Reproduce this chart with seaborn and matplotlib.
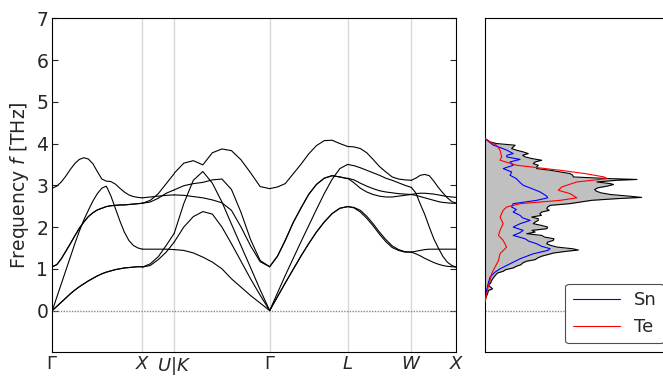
import numpy as np
import pandas as pd
import matplotlib
matplotlib.use("Agg")
import matplotlib.pyplot as plt
import seaborn as sns

# ---------------- data ----------------
tick_labels = [r"$\Gamma$", r"$X$", r"$U|K$", r"$\Gamma$", r"$L$", r"$W$", r"$X$"]
tick_pos = [0.0, 1.0, 1.354, 2.414, 3.280, 3.987, 4.487]

# Gamma - X
t_gx = [0, .05, .1, .15, .2, .25, .3, .35, .4, .45, .5, .55, .6, .65, .7, .75, .8, .85, .9, .95, 1]
gx_ta = [0, .1, .2, .3, .4, .49, .57, .64, .71, .77, .83, .88, .92, .95, .98, 1.0, 1.02, 1.03, 1.04, 1.05, 1.05]
gx_to = [1.05, 1.1, 1.24, 1.42, 1.6, 1.79, 1.97, 2.12, 2.25, 2.34, 2.41, 2.45, 2.49, 2.51, 2.52, 2.53, 2.53, 2.54, 2.55, 2.56, 2.57]
gx_la = [0, .32, .64, .96, 1.28, 1.6, 1.9, 2.17, 2.4, 2.62, 2.8, 2.93, 2.98, 2.75, 2.45, 2.15, 1.88, 1.68, 1.56, 1.5, 1.47]
gx_lo = [2.93, 2.98, 3.08, 3.22, 3.38, 3.52, 3.62, 3.66, 3.63, 3.52, 3.33, 3.15, 3.1, 3.09, 3.03, 2.93, 2.84, 2.77, 2.73, 2.71, 2.70]

# X - U
t_xu = [0, .25, .5, .75, 1]
xu_1 = [1.04, 1.08, 1.22, 1.40, 1.64]
xu_2 = [1.04, 1.12, 1.29, 1.56, 1.85]
xu_3 = [1.47, 1.47, 1.47, 1.47, 1.46]
xu_4 = [2.57, 2.60, 2.69, 2.81, 2.89]
xu_5 = [2.70, 2.72, 2.74, 2.76, 2.77]
xu_6 = [2.57, 2.64, 2.80, 3.04, 3.28]

# K - Gamma
t_kg = [0, .1, .2, .3, .4, .5, .6, .7, .8, .9, 1]
kg_1 = [1.46, 1.44, 1.38, 1.28, 1.16, 1.0, 0.76, 0.56, 0.36, 0.18, 0]
kg_2 = [1.64, 2.0, 2.25, 2.37, 2.31, 2.0, 1.6, 1.18, 0.76, 0.37, 0]
kg_3 = [1.85, 2.56, 3.12, 3.33, 3.05, 2.6, 2.07, 1.55, 1.03, 0.5, 0]
kg_4 = [2.77, 2.76, 2.73, 2.70, 2.65, 2.58, 2.4, 2.0, 1.55, 1.17, 1.05]
kg_5 = [2.89, 2.99, 3.04, 3.07, 3.13, 3.15, 2.9, 2.35, 1.7, 1.2, 1.05]
kg_6 = [3.29, 3.53, 3.59, 3.49, 3.78, 3.87, 3.83, 3.61, 3.30, 2.97, 2.92]

# Gamma - L
t_gl = [0, .1, .2, .3, .4, .5, .6, .7, .8, .9, 1]
gl_ta = [0, .33, .66, .98, 1.3, 1.6, 1.88, 2.12, 2.32, 2.45, 2.49]
gl_la = [0, .42, .84, 1.24, 1.64, 2.03, 2.42, 2.8, 3.14, 3.4, 3.5]
gl_to = [1.05, 1.3, 1.68, 2.1, 2.45, 2.78, 3.02, 3.17, 3.23, 3.2, 3.16]
gl_lo = [2.92, 2.96, 3.04, 3.27, 3.5, 3.75, 3.95, 4.07, 4.08, 4.0, 3.93]

# L - W
t_lw = [0, .1, .2, .3, .4, .5, .6, .7, .8, .9, 1]
lw_1 = [3.93, 3.92, 3.88, 3.78, 3.62, 3.45, 3.32, 3.2, 3.15, 3.13, 3.12]
lw_2 = [3.5, 3.47, 3.42, 3.36, 3.3, 3.24, 3.17, 3.12, 3.06, 3.0, 2.95]
lw_3 = [3.17, 3.13, 3.05, 2.98, 2.92, 2.87, 2.84, 2.82, 2.8, 2.79, 2.78]
lw_4 = [3.17, 3.06, 2.93, 2.84, 2.78, 2.74, 2.72, 2.72, 2.74, 2.76, 2.78]
lw_5 = [2.49, 2.47, 2.4, 2.26, 2.08, 1.88, 1.7, 1.55, 1.46, 1.41, 1.4]
lw_6 = [2.49, 2.46, 2.36, 2.21, 2.03, 1.83, 1.65, 1.51, 1.44, 1.4, 1.4]

# W - X
t_wx = [0, .1, .2, .3, .4, .5, .6, .7, .8, .9, 1]
wx_1 = [3.12, 3.17, 3.24, 3.26, 3.23, 3.1, 2.95, 2.82, 2.7, 2.61, 2.57]
wx_2 = [2.95, 2.82, 2.55, 2.3, 2.0, 1.72, 1.5, 1.3, 1.16, 1.08, 1.04]
wx_3 = [2.78, 2.8, 2.81, 2.81, 2.8, 2.79, 2.77, 2.75, 2.73, 2.72, 2.71]
wx_4 = [2.78, 2.76, 2.73, 2.7, 2.67, 2.64, 2.61, 2.59, 2.58, 2.57, 2.57]
wx_5 = [1.4, 1.42, 1.44, 1.46, 1.47, 1.47, 1.47, 1.47, 1.47, 1.47, 1.47]
wx_6 = [1.4, 1.36, 1.31, 1.25, 1.2, 1.15, 1.11, 1.08, 1.06, 1.05, 1.04]

# DOS (total, Sn, Te)
freq_tot = [0.20, 0.32, 0.40, 0.48, 0.52, 0.55, 0.60, 0.66, 0.72, 0.80,
            0.86, 0.90, 0.94, 0.98, 1.02, 1.06, 1.10, 1.14, 1.18, 1.22,
            1.26, 1.30, 1.34, 1.38, 1.42, 1.45, 1.48, 1.52, 1.56, 1.60,
            1.64, 1.68, 1.72, 1.76, 1.80, 1.84, 1.88, 1.92, 1.96, 2.00,
            2.04, 2.08, 2.12, 2.16, 2.20, 2.24, 2.28, 2.32, 2.36, 2.40,
            2.44, 2.48, 2.52, 2.56, 2.60, 2.64, 2.68, 2.71, 2.74, 2.78,
            2.82, 2.86, 2.90, 2.94, 2.98, 3.02, 3.04, 3.08, 3.12, 3.14,
            3.16, 3.20, 3.24, 3.28, 3.32, 3.36, 3.40, 3.44, 3.48, 3.52,
            3.56, 3.60, 3.64, 3.68, 3.72, 3.76, 3.80, 3.84, 3.88, 3.92,
            3.96, 4.00, 4.04, 4.08, 4.12, 4.15]
dos_tot = [0.0, 0.003, 0.008, 0.011, 0.024, 0.02, 0.011, 0.018, 0.021, 0.028,
           0.035, 0.04, 0.058, 0.066, 0.09, 0.1, 0.115, 0.12, 0.132, 0.16,
           0.168, 0.18, 0.2, 0.22, 0.26, 0.298, 0.28, 0.23, 0.21, 0.197,
           0.2, 0.218, 0.22, 0.19, 0.181, 0.133, 0.16, 0.15, 0.197, 0.2,
           0.18, 0.154, 0.16, 0.17, 0.17, 0.149, 0.18, 0.175, 0.181, 0.205,
           0.197, 0.2, 0.208, 0.27, 0.305, 0.34, 0.42, 0.50, 0.46, 0.40,
           0.37, 0.355, 0.35, 0.36, 0.39, 0.41, 0.40, 0.357, 0.42, 0.485,
           0.40, 0.282, 0.28, 0.272, 0.24, 0.208, 0.165, 0.165, 0.17, 0.154,
           0.16, 0.181, 0.15, 0.128, 0.12, 0.138, 0.122, 0.101, 0.085, 0.09,
           0.096, 0.037, 0.016, 0.008, 0.0, 0.0]

freq_sn = [0.24, 0.48, 0.64, 0.80, 0.92, 1.00, 1.12, 1.24, 1.36, 1.44,
           1.48, 1.54, 1.60, 1.66, 1.72, 1.80, 1.86, 1.92, 2.00, 2.08,
           2.16, 2.22, 2.28, 2.36, 2.42, 2.48, 2.56, 2.64, 2.70, 2.74,
           2.84, 2.92, 3.00, 3.08, 3.16, 3.24, 3.32, 3.40, 3.48, 3.56,
           3.62, 3.68, 3.72, 3.76, 3.80, 3.84, 3.90, 3.96, 4.04, 4.12]
dos_sn = [0.0, 0.005, 0.01, 0.016, 0.032, 0.048, 0.08, 0.112, 0.154, 0.2,
          0.208, 0.18, 0.165, 0.14, 0.128, 0.09, 0.11, 0.122, 0.09, 0.112,
          0.144, 0.12, 0.112, 0.09, 0.1, 0.085, 0.09, 0.165, 0.2, 0.197,
          0.176, 0.15, 0.122, 0.11, 0.1, 0.08, 0.085, 0.058, 0.09, 0.08,
          0.112, 0.069, 0.07, 0.09, 0.08, 0.07, 0.05, 0.027, 0.013, 0.0]

freq_te = [0.20, 0.40, 0.56, 0.72, 0.88, 1.04, 1.20, 1.36, 1.52, 1.68,
           1.80, 1.92, 2.08, 2.24, 2.40, 2.48, 2.56, 2.64, 2.70, 2.80,
           2.88, 2.96, 3.08, 3.16, 3.20, 3.28, 3.36, 3.48, 3.60, 3.68,
           3.84, 3.96, 4.04, 4.12]
dos_te = [0.0, 0.005, 0.01, 0.016, 0.021, 0.032, 0.043, 0.048, 0.069, 0.058,
          0.043, 0.048, 0.058, 0.048, 0.058, 0.069, 0.112, 0.24, 0.293, 0.272,
          0.234, 0.245, 0.293, 0.39, 0.38, 0.32, 0.24, 0.101, 0.048, 0.053,
          0.048, 0.037, 0.016, 0.0]

segments = [
    (t_gx, [gx_ta, gx_ta, gx_to, gx_to, gx_la, gx_lo]),
    (t_xu, [xu_1, xu_2, xu_3, xu_4, xu_5, xu_6]),
    (t_kg, [kg_1, kg_2, kg_3, kg_4, kg_5, kg_6]),
    (t_gl, [gl_ta, gl_ta, gl_la, gl_to, gl_to, gl_lo]),
    (t_lw, [lw_1, lw_2, lw_3, lw_4, lw_5, lw_6]),
    (t_wx, [wx_1, wx_2, wx_3, wx_4, wx_5, wx_6]),
]

rows = []
for si, (tt, bands) in enumerate(segments):
    k0, k1 = tick_pos[si], tick_pos[si + 1]
    for bi, band in enumerate(bands):
        for t, f in zip(tt, band):
            rows.append({"k": k0 + t * (k1 - k0), "f": f, "line": f"{si}-{bi}"})
df = pd.DataFrame(rows)

# ---------------- style ----------------
sns.set_style("white")
plt.rcParams["font.family"] = ["DejaVu Sans"]
plt.rcParams["mathtext.fontset"] = "dejavusans"
FS = 13.5

W, H = 663, 377
fig = plt.figure(figsize=(W / 100, H / 100), dpi=100)
ax = fig.add_axes([52.3 / W, (H - 352.3) / H, (456.3 - 52.3) / W, (352.3 - 18.3) / H])
ax2 = fig.add_axes([485 / W, (H - 352.3) / H, (673 - 485) / W, (352.3 - 18.3) / H])

# band structure
for xv in tick_pos[1:-1]:
    ax.axvline(xv, color="#d8d8d8", lw=1.0, zorder=0)
ax.axhline(0, color="#888888", lw=1.0, ls=(0, (1, 1)), zorder=1)
sns.lineplot(data=df, x="k", y="f", units="line", estimator=None, color="black",
             lw=0.8, ax=ax, legend=False, zorder=3)
ax.set_xlim(tick_pos[0], tick_pos[-1])
ax.set_ylim(-1, 7)
ax.set_xticks(tick_pos)
ax.set_xticklabels(tick_labels, fontsize=13)
ax.set_yticks(range(0, 8))
ax.set_yticklabels([str(i) for i in range(0, 8)], fontsize=FS)
ax.tick_params(axis="x", length=0, pad=2)
ax.tick_params(axis="y", direction="in", left=True, right=True, length=4, width=0.8, pad=3)
ax.set_xlabel("")
ax.set_ylabel(r"Frequency $f$ [THz]", fontsize=FS)
ax.yaxis.set_label_coords(-0.052, 0.5)
for s in ax.spines.values():
    s.set_color("black")
    s.set_linewidth(0.8)

# DOS
ax2.axhline(0, color="#888888", lw=1.0, ls=(0, (1, 1)), zorder=1)
ax2.fill_betweenx(freq_tot, 0, dos_tot, color="#c0c0c0", lw=0, zorder=2)
sns.lineplot(x=dos_tot, y=freq_tot, orient="y", color="black", lw=0.8, ax=ax2, zorder=3)
sns.lineplot(x=dos_sn, y=freq_sn, orient="y", color="blue", lw=0.8, ax=ax2, zorder=4, label="Sn")
sns.lineplot(x=dos_te, y=freq_te, orient="y", color="red", lw=0.8, ax=ax2, zorder=4, label="Te")
ax2.set_xlim(0, 0.6)
ax2.set_ylim(-1, 7)
ax2.set_xticks(np.arange(0, 0.61, 0.1))
ax2.set_xticklabels([])
ax2.set_yticks(range(0, 8))
ax2.set_yticklabels([])
ax2.set_xlabel("")
ax2.set_ylabel("")
ax2.tick_params(axis="both", direction="in", length=4, width=0.8)
for s in ax2.spines.values():
    s.set_color("black")
    s.set_linewidth(0.8)
leg = ax2.legend(loc="lower right", fontsize=13, frameon=True, fancybox=True,
                 edgecolor="0.3", framealpha=1.0, handlelength=2.6)
leg.get_frame().set_linewidth(0.8)

fig.savefig("out.png", dpi=100)
